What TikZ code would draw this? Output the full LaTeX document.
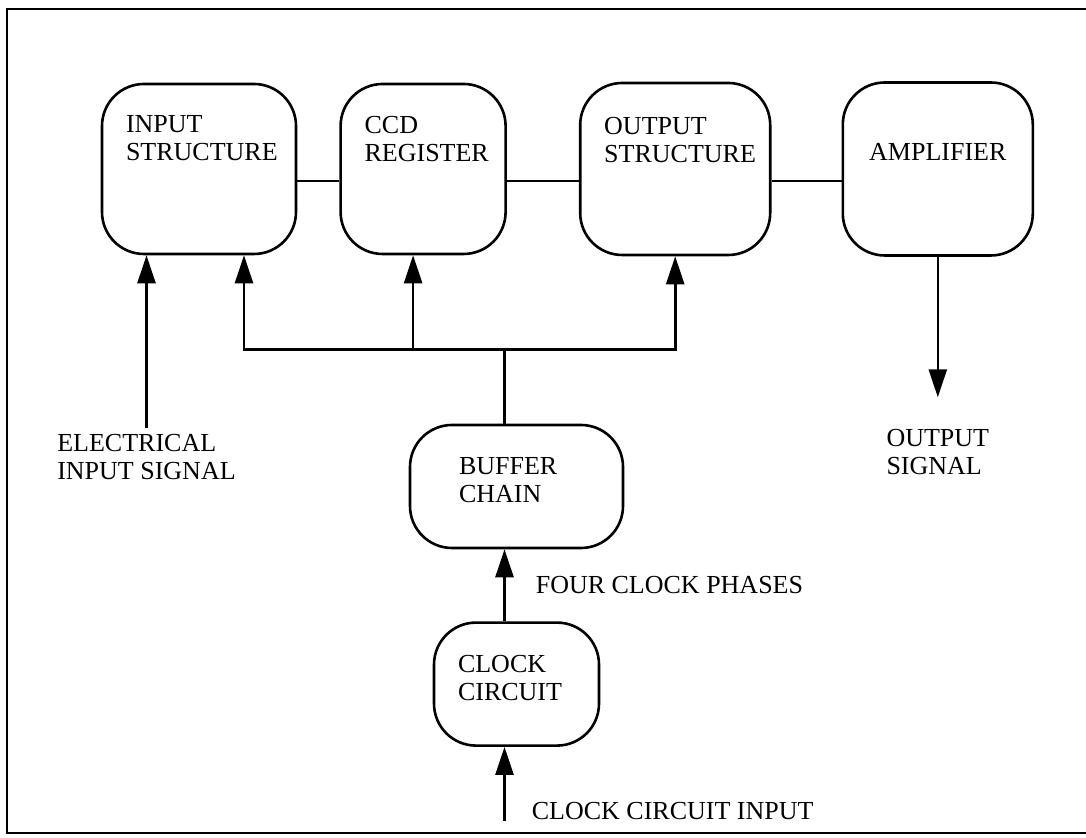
\documentclass[tikz,border=0pt]{standalone}
\usepackage{fontspec}
\setmainfont{Liberation Serif}
\usetikzlibrary{positioning,arrows.meta}

\begin{document}
\begin{tikzpicture}[
  x=1pt, y=1pt,
  line width=1.3pt,
  node distance=20pt and 20pt,
  blk/.style={draw, rounded corners=21pt, inner sep=0pt},
  txt/.style={align=left, inner sep=0pt, font=\fontsize{13}{14}\selectfont},
  arr/.style={-{Triangle[length=14pt,width=9pt]}}
]
\useasboundingbox (0,0) rectangle (543,419);

% top row
\node[blk, minimum width=97pt, minimum height=85pt] (in) at (99.5,334.5) {};
\node[blk, minimum width=82.5pt, minimum height=85pt, right=21pt of in] (ccd) {};
\node[blk, minimum width=95pt, minimum height=86pt, right=36pt of ccd] (out) {};
\node[blk, minimum width=95pt, minimum height=86.5pt, right=35pt of out] (amp) {};

\node[txt, below right=15.5pt and 12pt of in.north west] (inT) {INPUT\\STRUCTURE};
\node[txt, below right=16pt and 12pt of ccd.north west] (ccdT) {CCD\\REGISTER};
\node[txt, below right=17pt and 12pt of out.north west] (outT) {OUTPUT\\STRUCTURE};
\node[txt, below=30.5pt of amp.north] (ampT) {AMPLIFIER};

% clock path
\node[blk, minimum width=106.5pt, minimum height=61.5pt] (buf) at (258.25,175.75) {};
\node[blk, minimum width=82.5pt, minimum height=61.5pt, below=36pt of buf] (clk) {};

\node[txt, below right=16pt and 24.5pt of buf.north west] (bufT) {BUFFER\\CHAIN};
\node[txt, below right=16.5pt and 12pt of clk.north west] (clkT) {CLOCK\\CIRCUIT};

\draw ([yshift=-6pt]in.east) -- ([yshift=-6pt]ccd.west);
\draw ([yshift=-6pt]ccd.east) -- ([yshift=-6pt]out.west);
\draw ([yshift=-6pt]out.east) -- ([yshift=-6pt]amp.west);

\coordinate (cin) at ([xshift=-6pt,yshift=-37pt]clk.south);
\node[txt, above right=0pt and 13pt of cin] (cinT) {CLOCK CIRCUIT INPUT};
\draw[arr] (cin) -- (cin |- clk.south);
\draw[arr] (cin |- clk.north) -- (cin |- buf.south)
  node[txt, midway, right=15pt] (phT) {FOUR CLOCK PHASES};

% phase bus
\path (cin |- buf.north) ++(0,37) coordinate (bus);
\coordinate (inclk) at ([xshift=22.5pt]in.south);
\coordinate (ccdclk) at ([xshift=-5pt]ccd.south);
\draw (cin |- buf.north) -- (bus);
\draw[arr] (bus) -| (inclk);
\draw[arr] (bus) -| (out.south);
\draw[arr] (ccdclk |- bus) -- (ccdclk);

% signal in / out
\node[txt, anchor=north west] (elecT) at (28,202.5) {ELECTRICAL\\INPUT SIGNAL};
\draw[arr] ([yshift=2.5pt]elecT.north) -- (elecT.north |- in.south);
\node[txt, below=85.75pt of amp.south] (outsigT) {OUTPUT\\SIGNAL};
\draw[arr] (amp.south) -- ([yshift=15.5pt]outsigT.north);

% frame
\draw[line width=1pt] (543,414.5) -- (3.5,414.5) -- (3.5,2.5) -- (543,2.5);
\end{tikzpicture}
\end{document}
